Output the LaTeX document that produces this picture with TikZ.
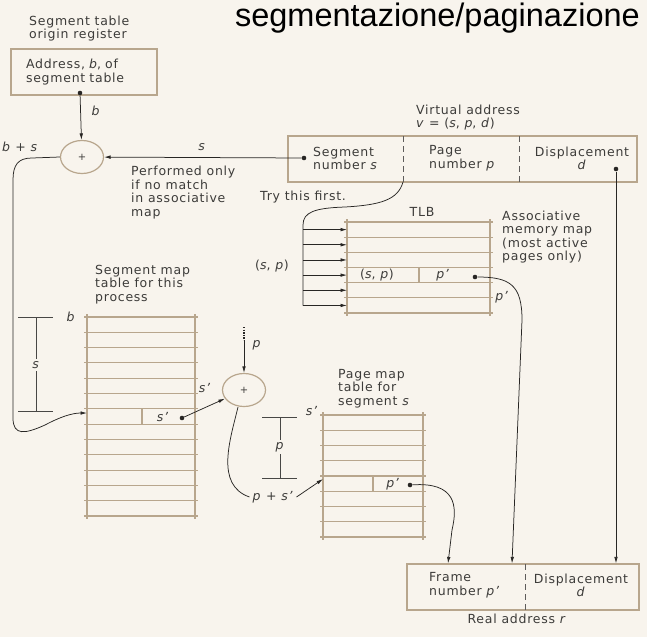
\documentclass[tikz,border=0pt]{standalone}
\usepackage{fontspec}
\setmainfont{DejaVu Sans}[LetterSpace=6]
\newfontfamily\titlefont{Liberation Sans}
\usetikzlibrary{arrows.meta,shapes.geometric,positioning}
\definecolor{paper}{RGB}{248,244,237}
\definecolor{tan}{RGB}{184,166,141}
\definecolor{ink}{RGB}{40,38,36}
\begin{document}
\begin{tikzpicture}[x=1pt, y=-1pt,
    every node/.style={text=ink!90, inner sep=0pt, font=\fontsize{12.5}{13.6}\selectfont},
    lab/.style={align=left, anchor=west},
    box/.style={draw=tan, line width=1.2pt, minimum width=#1, minimum height=46pt},
    rule/.style={draw=tan, line width=1.1pt},
    wire/.style={draw=ink, line width=0.75pt},
    tip/.style={-{Latex[length=6.5pt,width=3.6pt]}},
    blob/.style={circle, fill=ink, minimum size=4.6pt},
    adder/.style={ellipse, draw=tan, line width=1.2pt, minimum width=43pt, minimum height=33pt, font=\fontsize{10}{10}\selectfont},
    divider/.style={draw=ink!75, line width=0.7pt, dash pattern=on 6pt off 4pt},
    dim/.style={draw=ink!85, line width=0.75pt},
    gap/.style={fill=paper, inner sep=2pt}]

\useasboundingbox[fill=paper] (0,0) rectangle (647,637);

% title
\node (title) [anchor=base east, text=black, font=\titlefont\fontsize{32.5}{34}\selectfont] at (640,26) {segmentazione/paginazione};

% segment table origin register
\node (reghead) [lab] at (29,28.5) {Segment table\\origin register};
\node (reg) [box=146pt, text width=116pt, align=left] at (84,72) {Address, \textit{b}, of\\segment table};
\node (bdot) [blob] at (80,93) {};
\node (add1) [adder] at (82,157) {+};
\node (blab) at (96,111) {\textit{b}};
\node (bslab) at (20,147) {\textit{b} + \textit{s}};
\draw[wire, tip] (bdot) -- (add1);

% virtual address
\node (vhead) [lab] at (416,117.5) {Virtual address\\\textit{v} = (\textit{s}, \textit{p}, \textit{d})};
\node (vaddr) [box=349pt] at (462.5,159) {};
\draw[divider] (403,136) -- (403,182) (519,136) -- (519,182);
\coordinate (vcut) at (403,182);
\node (vseg) [lab] at (313,158.5) {Segment\\number \textit{s}};
\node (vpage) [lab] at (429,158.5) {Page\\number \textit{p}};
\node (vdisp) [align=center] at (582,158.5) {Displacement\\\textit{d}};
\node (sdot) [blob] at (304,158) {};
\node (ddot) [blob] at (616,169) {};
\node (slab) at (202,147) {\textit{s}};
\draw[wire, tip] (sdot) -- (add1);
\node (perf) [lab] at (131,192.5) {Performed only\\if no match\\in associative\\map};
\node (tryfirst) [lab] at (260,197) {Try this first.};

% TLB
\node (tlbhead) at (422,212) {TLB};
\foreach \i in {0,...,6} \draw[rule] (344,{222+15.17*\i}) -- (493,{222+15.17*\i});
\draw[rule] (347,219) -- (347,316) (490,219) -- (490,316) (419,267.5) -- (419,282.7);
\node (tlbsp) at (377,275) {(\textit{s}, \textit{p})};
\node (tlbp) at (443,275) {\textit{p’}};
\node (tlbdot) [blob] at (475,277) {};
\draw[wire] (vcut) .. controls (398,200) and (380,205) .. (345,207) .. controls (315,208) and (303,212) .. (303,225) -- (303,305.5);
\foreach \i in {0,...,5} \draw[wire, tip] (303,{229.6+15.17*\i}) -- (347,{229.6+15.17*\i});
\node (buslab) at (272,266) {(\textit{s}, \textit{p})};
\node (assoc) [lab] at (502,237) {Associative\\memory map\\(most active\\pages only)};
\node (tlbplab) at (502,297) {\textit{p’}};

% segment map table
\node (smhead) [lab] at (95,284.5) {Segment map\\table for this\\process};
\foreach \i in {0,...,13} \draw[rule] (84,{317+15.31*\i}) -- (198,{317+15.31*\i});
\draw[rule] (87,314) -- (87,519) (195,314) -- (195,519) (142,408.9) -- (142,424.2);
\node (smb) at (71,317) {\textit{b}};
\node (sms) at (163,417) {\textit{s’}};
\node (smdot) [blob] at (182,418) {};
\coordinate (smrow) at (87,413);
\draw[dim] (18,317) -- (53,317) (18,411) -- (53,411) (36,317) -- (36,411);
\node (dims) [gap] at (36,365) {\textit{s}};
\draw[wire, tip] (add1.west) -- (32,158) .. controls (18,158) and (13,165) .. (13,180) -- (13,418)
  .. controls (13,436) and (25,434) .. (45,425) .. controls (60,417) and (72,413) .. (smrow);

% second adder
\node (add2) [adder] at (244,390) {+};
\coordinate (pin) at (244,340);
\draw[ink, line width=2.2pt, dash pattern=on 1.3pt off 1.3pt] (244,327) -- (pin);
\draw[wire, tip] (pin) -- (add2);
\node (plab) at (257,345) {\textit{p}};
\draw[wire, tip] (smdot) -- (add2);
\node (s2lab) at (205,388) {\textit{s’}};
\node (psum) [inner sep=3pt] at (273,497) {\textit{p} + \textit{s’}};
\draw[wire] ([xshift=-6pt]add2.south) .. controls (230,440) and (215,485) .. (psum.west);

% page map table
\node (pmhead) [lab] at (338,388.5) {Page map\\table for\\segment \textit{s}};
\foreach \i in {0,...,8} \draw[rule] (320,{415+15.25*\i}) -- (426,{415+15.25*\i});
\draw[rule] (323,412) -- (323,540) (423,412) -- (423,540) (373,476) -- (373,491.25);
\node (pms) at (312,411) {\textit{s’}};
\node (pmp) at (393,484) {\textit{p’}};
\node (pmdot) [blob] at (410,485) {};
\coordinate (pmrow) at (323,479);
\draw[wire, tip] (psum.east) -- (pmrow);
\draw[dim] (262,417) -- (297,417) (262,478) -- (297,478) (280,417) -- (280,478);
\node (dimp) [gap] at (280,447) {\textit{p}};

% real address
\node (raddr) [box=232pt] at (523,587) {};
\draw[divider] (525,564) -- (525,610);
\node (rframe) [lab] at (429,585.5) {Frame\\number \textit{p’}};
\node (rdisp) [align=center] at (581,585.5) {Displacement\\\textit{d}};
\node (rlab) at (517,619) {Real address \textit{r}};
\draw[wire, tip] (ddot) -- (ddot |- raddr.north);
\draw[wire, tip] (tlbdot) .. controls (510,277) and (522,285) .. (522,320) -- ([xshift=-11pt]raddr.north);
\draw[wire, tip] (pmdot) .. controls (455,482) and (458,505) .. (452,530) -- ([xshift=-75pt]raddr.north);
\end{tikzpicture}
\end{document}
